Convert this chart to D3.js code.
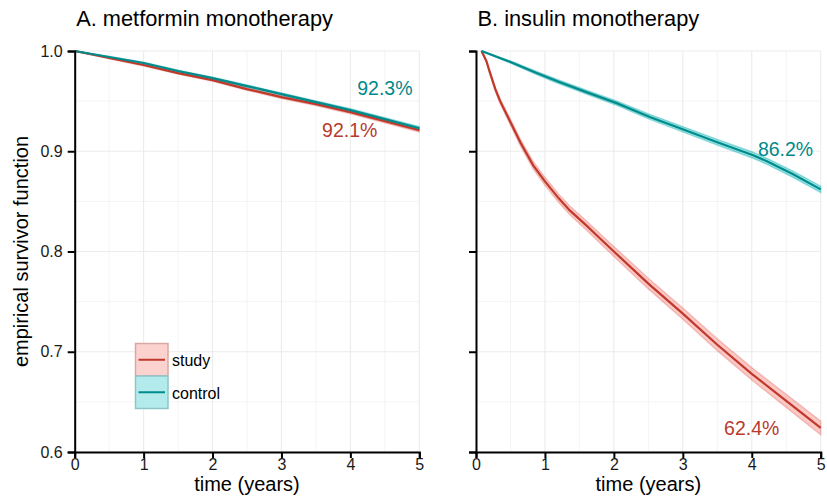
<!DOCTYPE html>
<html>
<head>
<meta charset="utf-8">
<script src="https://cdn.jsdelivr.net/npm/d3@7"></script>
<style>
  html, body { margin: 0; padding: 0; background: #fff; }
  svg { display: block; font-family: "Liberation Sans", Arial, Helvetica, sans-serif; }
</style>
</head>
<body>
<svg id="chart" width="827" height="499"></svg>
<script>
// ---------------- data ----------------
const panelTitles = ["A. metformin monotherapy", "B. insulin monotherapy"];
const groups = ["study", "control"];
const xTicks = [0, 1, 2, 3, 4, 5];
const yTicks = [0.6, 0.7, 0.8, 0.9, 1.0];
const yTickLabels = ["0.6", "0.7", "0.8", "0.9", "1.0"];

// Panel A: metformin monotherapy
const metTime = [0, 0.5, 1, 1.5, 2, 2.5, 3, 3.5, 4, 4.5, 5];
const metStudy = [1.0, 0.993, 0.986, 0.978, 0.971, 0.962, 0.954, 0.947, 0.939, 0.930, 0.921];
const metStudyCI = [0, 0.0008, 0.001, 0.0011, 0.0012, 0.0013, 0.0014, 0.0015, 0.0016, 0.0017, 0.0018];
const metControl = [1.0, 0.994, 0.988, 0.980, 0.973, 0.965, 0.957, 0.949, 0.941, 0.932, 0.923];
const metControlCI = [0, 0.0006, 0.0008, 0.0009, 0.001, 0.0011, 0.0012, 0.0013, 0.0014, 0.0015, 0.0016];

// Panel B: insulin monotherapy
const insStudyTime = [0.08, 0.15, 0.2, 0.28, 0.35, 0.5, 0.65, 0.83, 1.0, 1.2, 1.36, 1.6, 1.8, 2.0, 2.5, 3.0, 3.5, 4.0, 4.5, 5.0];
const insStudy = [1.0, 0.99, 0.979, 0.962, 0.950, 0.929, 0.908, 0.886, 0.870, 0.853, 0.841, 0.826, 0.813, 0.800, 0.768, 0.738, 0.707, 0.678, 0.651, 0.624];
const insStudyCI = [0, 0.001, 0.0015, 0.002, 0.0025, 0.003, 0.0034, 0.0038, 0.004, 0.0042, 0.0044, 0.0046, 0.0048, 0.005, 0.0053, 0.0056, 0.0059, 0.0062, 0.0065, 0.0068];
const insControlTime = [0.08, 0.5, 0.88, 1.17, 1.6, 2.04, 2.53, 2.96, 3.5, 4.02, 4.22, 4.6, 5.0];
const insControl = [1.0, 0.989, 0.978, 0.970, 0.959, 0.948, 0.934, 0.923, 0.909, 0.896, 0.890, 0.877, 0.862];
const insControlCI = [0, 0.0012, 0.0016, 0.0018, 0.002, 0.0022, 0.0024, 0.0026, 0.0028, 0.003, 0.003, 0.0031, 0.0032];

// final-value labels
const endLabels = [
  { panel: 0, group: "control", text: "92.3%" },
  { panel: 0, group: "study", text: "92.1%" },
  { panel: 1, group: "control", text: "86.2%" },
  { panel: 1, group: "study", text: "62.4%" }
];

// ---------------- styling ----------------
const lineColor = { study: "#C0392B", control: "#008B8B" };
const textColor = { study: "#B83A2E", control: "#00898B" };
const bandColor = { study: "rgba(248,118,109,0.40)", control: "rgba(0,191,196,0.40)" };
const bandStroke = { study: "rgba(220,110,100,0.35)", control: "rgba(0,160,165,0.35)" };
const keyFill = { study: "#FCD2CF", control: "#B3EBEC" };
const keyStroke = { study: "#D6A9A6", control: "#8EC5C7" };

const svg = d3.select("#chart");
const yTop = 51, yBottom = 452;
const panelsX = [[74.7, 419.3], [476, 820.7]];

const series = [
  [
    { group: "study", t: metTime, s: metStudy, ci: metStudyCI },
    { group: "control", t: metTime, s: metControl, ci: metControlCI }
  ],
  [
    { group: "study", t: insStudyTime, s: insStudy, ci: insStudyCI },
    { group: "control", t: insControlTime, s: insControl, ci: insControlCI }
  ]
];

// label positions (x in years, y in survival units)
const labelPos = {
  "0-control": [4.5, 0.956],
  "0-study": [3.99, 0.914],
  "1-control": [4.49, 0.895],
  "1-study": [4.0, 0.617]
};

const y = d3.scaleLinear().domain([0.6, 1.0]).range([yBottom, yTop]);
const yMinor = [0.65, 0.75, 0.85, 0.95];
const xMinor = [0.5, 1.5, 2.5, 3.5, 4.5];

panelsX.forEach((px, pi) => {
  const x = d3.scaleLinear().domain([0, 5]).range(px);
  const g = svg.append("g");

  // minor grid
  g.selectAll(".ymin").data(yMinor).enter().append("line")
    .attr("x1", px[0]).attr("x2", px[1])
    .attr("y1", d => y(d)).attr("y2", d => y(d))
    .attr("stroke", "#F4F4F4").attr("stroke-width", 1);
  g.selectAll(".xmin").data(xMinor).enter().append("line")
    .attr("y1", yTop).attr("y2", yBottom)
    .attr("x1", d => x(d)).attr("x2", d => x(d))
    .attr("stroke", "#F4F4F4").attr("stroke-width", 1);
  // major grid
  g.selectAll(".ymaj").data(yTicks).enter().append("line")
    .attr("x1", px[0]).attr("x2", px[1])
    .attr("y1", d => y(d)).attr("y2", d => y(d))
    .attr("stroke", "#EBEBEB").attr("stroke-width", 1.1);
  g.selectAll(".xmaj").data(xTicks).enter().append("line")
    .attr("y1", yTop).attr("y2", yBottom)
    .attr("x1", d => x(d)).attr("x2", d => x(d))
    .attr("stroke", "#EBEBEB").attr("stroke-width", 1.1);

  const ser = series[pi];
  // bands
  ser.forEach(sr => {
    const pts = sr.t.map((t, i) => ({ t, s: sr.s[i], c: sr.ci[i] }));
    const area = d3.area().x(d => x(d.t)).y0(d => y(d.s - d.c)).y1(d => y(d.s + d.c));
    g.append("path").datum(pts).attr("d", area)
      .attr("fill", bandColor[sr.group]).attr("stroke", bandStroke[sr.group]).attr("stroke-width", 1.4);
  });
  // lines (study first, then control on top)
  ser.forEach(sr => {
    const pts = sr.t.map((t, i) => ({ t, s: sr.s[i] }));
    const line = d3.line().x(d => x(d.t)).y(d => y(d.s));
    g.append("path").datum(pts).attr("d", line)
      .attr("fill", "none").attr("stroke", lineColor[sr.group]).attr("stroke-width", 2.2);
  });

  // axes
  const xAxis = d3.axisBottom(x).tickValues(xTicks).tickFormat(d3.format("d")).tickSizeOuter(0).tickSize(6).tickPadding(1);
  const gx = g.append("g").attr("transform", `translate(0,${yBottom})`).call(xAxis);
  const yAxis = d3.axisLeft(y).tickValues(yTicks).tickSizeOuter(0).tickSize(7).tickPadding(5)
    .tickFormat((d, i) => pi === 0 ? yTickLabels[i] : "");
  const gy = g.append("g").attr("transform", `translate(${px[0]},0)`).call(yAxis);
  [gx, gy].forEach(ax => {
    ax.select(".domain").attr("stroke", "#000").attr("stroke-width", 2);
    ax.selectAll(".tick line").attr("stroke", "#000").attr("stroke-width", 2);
    ax.selectAll(".tick text").attr("fill", "#1A1A1A").style("font-size", "16px")
      .style("font-family", "'Liberation Sans', Arial, sans-serif");
  });

  // x axis title
  g.append("text").attr("x", (px[0] + px[1]) / 2).attr("y", 491)
    .attr("text-anchor", "middle").style("font-size", "20px").attr("fill", "#000")
    .text("time (years)");

  // panel title
  g.append("text").attr("x", px[0] + 1.5).attr("y", 25.5)
    .style("font-size", "21.8px").attr("fill", "#000")
    .text(panelTitles[pi]);

  // end labels
  endLabels.filter(l => l.panel === pi).forEach(l => {
    const p = labelPos[`${pi}-${l.group}`];
    g.append("text").attr("x", x(p[0])).attr("y", y(p[1]))
      .attr("text-anchor", "middle").style("font-size", "19.5px")
      .attr("fill", textColor[l.group]).text(l.text);
  });
});

// y axis title
svg.append("text")
  .attr("transform", `translate(27.5,${(yTop + yBottom) / 2}) rotate(-90)`)
  .attr("text-anchor", "middle").style("font-size", "20px").attr("fill", "#000")
  .text("empirical survivor function");

// legend
const legend = svg.append("g").attr("transform", "translate(135.5,343.5)");
groups.forEach((gname, i) => {
  const k = legend.append("g").attr("transform", `translate(0,${i * 32.5})`);
  k.append("rect").attr("x", 0).attr("y", 0).attr("width", 32.5).attr("height", 32.5)
    .attr("fill", keyFill[gname]).attr("stroke", keyStroke[gname]).attr("stroke-width", 1.5);
  k.append("line").attr("x1", 3).attr("x2", 29.5).attr("y1", 16.25).attr("y2", 16.25)
    .attr("stroke", lineColor[gname]).attr("stroke-width", 2);
  k.append("text").attr("x", 36.5).attr("y", 22.5).style("font-size", "16px").attr("fill", "#000").text(gname);
});
</script>
</body>
</html>
